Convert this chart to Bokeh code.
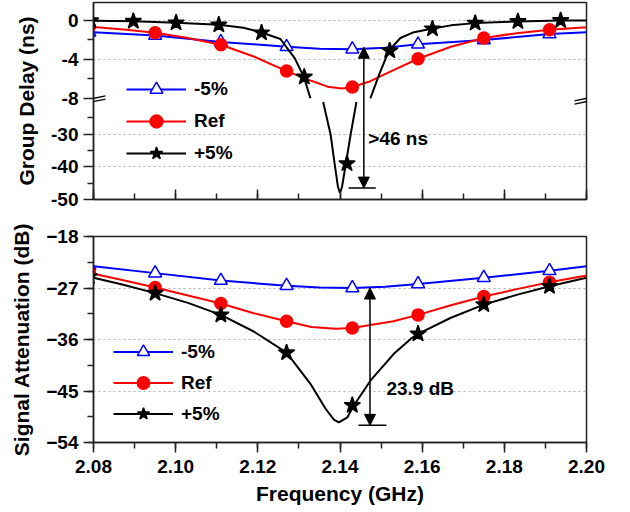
import numpy as np
from bokeh.plotting import figure
from bokeh.layouts import column
from bokeh.models import (Range1d, FixedTicker, SingleIntervalTicker, CustomJSTickFormatter,
                          NumeralTickFormatter, Legend, LegendItem, Arrow, NormalHead, Label)
from bokeh.embed import file_html
from bokeh.resources import INLINE

FONT = "Liberation Sans"
BLUE = "#0000ff"
RED = "#ff0000"
BLACK = "#000000"
FRAME = "#222222"
GRID = "#b0b0b0"

LABELS = ["-5%", "Ref", "+5%"]

# ---------------- Group delay (ns) ----------------
GD_MARK_F = [2.079, 2.095, 2.111, 2.127, 2.143, 2.159, 2.175, 2.191]
GD_M5_MARK = [-1.2, -1.55, -2.2, -2.7, -2.95, -2.45, -2.0, -1.4]
GD_REF_MARK = [-0.65, -1.27, -2.5, -5.2, -6.84, -3.93, -1.8, -0.96]
GD_P5_MARK_F = [2.0793, 2.0897, 2.1001, 2.1105, 2.1209, 2.1313, 2.1417, 2.1521,
                2.1625, 2.1729, 2.1833, 2.1937]
GD_P5_MARK = [-0.02, -0.07, -0.24, -0.44, -1.26, -5.8, -39.0, -3.1, -0.85, -0.27, -0.1, 0.0]

GD_M5_F = [2.080, 2.095, 2.111, 2.127, 2.135, 2.143, 2.151, 2.159, 2.175, 2.191, 2.200]
GD_M5 = [-1.2, -1.55, -2.2, -2.7, -2.9, -2.95, -2.8, -2.45, -2.0, -1.4, -1.2]

GD_REF_F = [2.080, 2.088, 2.095, 2.103, 2.111, 2.119, 2.127, 2.133, 2.137, 2.1405, 2.143,
            2.147, 2.152, 2.159, 2.167, 2.175, 2.183, 2.191, 2.200]
GD_REF = [-0.68, -0.95, -1.27, -1.8, -2.5, -3.7, -5.2, -6.2, -6.8, -7.0, -6.84,
          -6.3, -5.3, -3.93, -2.7, -1.8, -1.3, -0.96, -0.7]

GD_P5_F = [2.080, 2.0897, 2.1001, 2.1105, 2.1165, 2.1211, 2.1255, 2.1290, 2.1312, 2.1328,
           2.1359, 2.1377, 2.1388, 2.1395, 2.1400, 2.1405, 2.1413, 2.1426, 2.1440,
           2.1474, 2.1495, 2.1519, 2.1547, 2.1580, 2.1623, 2.1670, 2.1729, 2.1833, 2.1937, 2.200]
GD_P5 = [-0.02, -0.07, -0.24, -0.44, -0.75, -1.26, -1.9, -3.9, -5.8, -8.0,
         -20.1, -30.0, -40.0, -46.1, -48.0, -46.1, -40.0, -30.0, -20.1,
         -8.0, -5.6, -3.1, -1.8, -1.2, -0.85, -0.5, -0.27, -0.1, 0.0, 0.0]

GD_TICKS = [0, -4, -8, -30, -40, -50]
GD_MINOR = [-2, -6, -25, -35, -45]
GD_GRID = [0, -4, -30, -40]

# ---------------- Signal attenuation (dB) ----------------
SA_MARK_F = [2.079, 2.095, 2.111, 2.127, 2.143, 2.159, 2.175, 2.191]
SA_M5_MARK = [-23.1, -24.4, -25.7, -26.6, -27.0, -26.3, -25.2, -24.0]
SA_REF_MARK = [-24.3, -26.9, -29.7, -32.8, -34.0, -31.7, -28.5, -26.0]
SA_P5_MARK = [-25.0, -27.9, -31.7, -38.3, -47.5, -35.0, -29.9, -26.7]

SA_M5_F = [2.080, 2.095, 2.111, 2.127, 2.135, 2.143, 2.151, 2.159, 2.175, 2.191, 2.200]
SA_M5 = [-23.2, -24.4, -25.7, -26.6, -26.9, -27.0, -26.8, -26.3, -25.2, -24.0, -23.2]

SA_REF_F = [2.080, 2.087, 2.095, 2.103, 2.111, 2.119, 2.127, 2.133, 2.139, 2.143, 2.147,
            2.153, 2.159, 2.167, 2.175, 2.183, 2.191, 2.200]
SA_REF = [-24.5, -25.6, -26.9, -28.3, -29.7, -31.4, -32.8, -33.8, -34.1, -34.0, -33.5,
          -32.8, -31.7, -30.0, -28.5, -27.2, -26.0, -24.8]

SA_P5_F = [2.080, 2.087, 2.095, 2.103, 2.111, 2.119, 2.127, 2.1328, 2.1365, 2.1385, 2.1397,
           2.1418, 2.1434, 2.1474, 2.1531, 2.1572, 2.159, 2.167, 2.175, 2.183, 2.191, 2.200]
SA_P5 = [-25.2, -26.4, -27.9, -29.6, -31.7, -34.6, -38.3, -43.75, -48.1, -50.0, -50.5,
         -49.6, -47.5, -43.2, -38.5, -35.9, -35.0, -32.2, -29.9, -28.2, -26.7, -25.2]

# ---------------- annotations ----------------
GD_ANN_F = 2.1458
GD_ANN_TOP = -2.75
GD_ANN_BOT = -46.5
GD_ANN_TEXT = ">46 ns"
SA_ANN_F = 2.1473
SA_ANN_TOP = -27.0
SA_ANN_BOT = -51.0
SA_ANN_TEXT = "23.9 dB"

# ---------------- broken axis transform (group delay) ----------------
UPPER_MIN = -8.0
LOWER_MAX = -20.0
LOWER_SCALE = 3.27 / 9.75
GAP = 0.34
GD_TOP = 1.85


def gd_t(v):
    v = np.asarray(v, dtype=float)
    return np.where(v >= UPPER_MIN - 1e-9, v,
                    UPPER_MIN - GAP - (LOWER_MAX - v) * LOWER_SCALE)


def split_gap(f, v):
    fx, vy = [f[0]], [v[0]]
    for i in range(1, len(f)):
        if (v[i - 1] >= UPPER_MIN) != (v[i] >= UPPER_MIN):
            fx.append(np.nan)
            vy.append(np.nan)
        fx.append(f[i])
        vy.append(v[i])
    return np.array(fx, dtype=float), gd_t(vy)


X_RANGE = (2.08, 2.20)


def style_axes(p):
    for ax in p.xaxis + p.yaxis:
        ax.axis_line_color = FRAME
        ax.axis_line_width = 1.5
        ax.major_tick_line_color = FRAME
        ax.minor_tick_line_color = FRAME
        ax.major_tick_line_width = 1.5
        ax.minor_tick_line_width = 1.5
        ax.major_label_text_font = FONT
        ax.major_label_text_font_style = "bold"
        ax.major_label_text_font_size = "19px"
        ax.major_label_text_color = "black"
        ax.axis_label_text_font = FONT
        ax.axis_label_text_font_style = "bold"
        ax.axis_label_text_font_size = "21px"
        ax.axis_label_text_color = "black"
    p.outline_line_color = FRAME
    p.outline_line_width = 1.5
    p.outline_line_alpha = 1.0
    p.xgrid.visible = False
    p.ygrid.grid_line_color = GRID
    p.ygrid.grid_line_dash = "2 3"
    p.ygrid.grid_line_width = 1


def add_series(p, lf, lv, mf, mv, color, marker, size, fill):
    lr = p.line(lf, lv, line_color=color, line_width=2)
    mr = p.scatter(mf, mv, marker=marker, size=size, line_color=color,
                   fill_color=fill, line_width=1.5)
    return lr, mr


def add_legend(p, items, loc, gh):
    leg = Legend(items=[LegendItem(label=lab, renderers=list(rs)) for lab, rs in items],
                 location=loc, glyph_width=60, glyph_height=gh, label_height=gh,
                 spacing=0, padding=0, margin=0, label_standoff=8,
                 border_line_color=None, background_fill_alpha=0,
                 label_text_font=FONT, label_text_font_style="bold",
                 label_text_font_size="19px", label_text_color="black")
    p.add_layout(leg)


# ================= top panel =================
p1 = figure(width=630, height=224, x_range=Range1d(*X_RANGE),
            y_range=Range1d(float(gd_t(-50)), GD_TOP),
            output_backend="svg", toolbar_location=None, title=None,
            min_border_left=93, min_border_right=44, min_border_top=2, min_border_bottom=25)
style_axes(p1)
p1.yaxis.axis_label = "Group Delay (ns)"
p1.yaxis.axis_label_standoff = 10
p1.yaxis.major_label_standoff = 5
p1.yaxis.ticker = FixedTicker(ticks=[float(t) for t in gd_t(GD_TICKS)],
                              minor_ticks=[float(t) for t in gd_t(GD_MINOR)])
p1.yaxis.formatter = CustomJSTickFormatter(
    args=dict(um=UPPER_MIN, lm=LOWER_MAX, g=GAP, s=LOWER_SCALE),
    code="""
        let v = tick;
        if (tick < um - g / 2) { v = lm - ((um - g) - tick) / s; }
        return Math.round(v).toString();
    """)
p1.yaxis.major_tick_out = 10
p1.yaxis.major_tick_in = 0
p1.yaxis.minor_tick_out = 6
p1.yaxis.minor_tick_in = 0
p1.ygrid.ticker = FixedTicker(ticks=[float(t) for t in gd_t(GD_GRID)])
p1.xaxis.ticker = SingleIntervalTicker(interval=0.02, num_minor_ticks=2)
p1.xaxis.major_tick_in = 10
p1.xaxis.major_tick_out = 0
p1.xaxis.minor_tick_in = 6
p1.xaxis.minor_tick_out = 0
p1.xaxis.formatter = CustomJSTickFormatter(code="return '';")
p1.xaxis.major_label_standoff = 0

f, v = split_gap(GD_M5_F, GD_M5)
r1 = add_series(p1, f, v, GD_MARK_F, gd_t(GD_M5_MARK), BLUE, "triangle", 13, "white")
f, v = split_gap(GD_REF_F, GD_REF)
r2 = add_series(p1, f, v, GD_MARK_F, gd_t(GD_REF_MARK), RED, "circle", 12, RED)
f, v = split_gap(GD_P5_F, GD_P5)
r3 = add_series(p1, f, v, GD_P5_MARK_F, gd_t(GD_P5_MARK), BLACK, "star", 17, BLACK)
add_legend(p1, list(zip(LABELS, [r1, r2, r3])), (33, 30), 32)

# annotation: >46 ns
p1.add_layout(Arrow(x_start=GD_ANN_F, y_start=float(gd_t(GD_ANN_BOT)),
                    x_end=GD_ANN_F, y_end=float(gd_t(GD_ANN_TOP)),
                    start=NormalHead(size=11, fill_color=BLACK, line_color=BLACK),
                    end=NormalHead(size=11, fill_color=BLACK, line_color=BLACK),
                    line_width=1.5, line_color=BLACK))
p1.segment(x0=[GD_ANN_F - 0.0037], x1=[GD_ANN_F + 0.0029],
           y0=[float(gd_t(GD_ANN_BOT))], y1=[float(gd_t(GD_ANN_BOT))],
           line_color=BLACK, line_width=1.5)
p1.add_layout(Label(x=GD_ANN_F + 0.0011, y=float(gd_t(-31.2)), text=GD_ANN_TEXT,
                    text_font=FONT, text_font_style="bold", text_font_size="19px",
                    text_baseline="middle", text_align="left", text_color="black"))

# axis break marks
yb = UPPER_MIN - GAP / 2
dx = 12 / 4108
dy = 2.5 / 9.75
sep = 1.6 / 9.75
for xb in X_RANGE:
    for off in (-sep, sep):
        p1.add_layout(Arrow(x_start=xb - dx, y_start=yb + off - dy,
                            x_end=xb + dx, y_end=yb + off + dy,
                            start=None, end=None, line_color=BLACK, line_width=1.3))

# ================= bottom panel =================
p2 = figure(width=630, height=288, x_range=p1.x_range, y_range=Range1d(-54, -18),
            output_backend="svg", toolbar_location=None, title=None,
            min_border_left=93, min_border_right=44, min_border_top=12, min_border_bottom=70)
style_axes(p2)
p2.yaxis.axis_label = "Signal Attenuation (dB)"
p2.yaxis.axis_label_standoff = 10
p2.yaxis.major_label_standoff = 5
p2.yaxis.ticker = SingleIntervalTicker(interval=9, num_minor_ticks=2)
p2.yaxis.major_tick_out = 10
p2.yaxis.major_tick_in = 0
p2.yaxis.minor_tick_out = 6
p2.yaxis.minor_tick_in = 0
p2.xaxis.ticker = SingleIntervalTicker(interval=0.02, num_minor_ticks=2)
p2.xaxis.formatter = NumeralTickFormatter(format="0.00")
p2.xaxis.major_tick_out = 10
p2.xaxis.major_tick_in = 0
p2.xaxis.minor_tick_out = 6
p2.xaxis.minor_tick_in = 0
p2.xaxis.major_label_standoff = 7
p2.xaxis.axis_label = "Frequency (GHz)"
p2.xaxis.axis_label_standoff = 6

s1 = add_series(p2, SA_M5_F, SA_M5, SA_MARK_F, SA_M5_MARK, BLUE, "triangle", 13, "white")
s2 = add_series(p2, SA_REF_F, SA_REF, SA_MARK_F, SA_REF_MARK, RED, "circle", 12, RED)
s3 = add_series(p2, SA_P5_F, SA_P5, SA_MARK_F, SA_P5_MARK, BLACK, "star", 17, BLACK)
add_legend(p2, list(zip(LABELS, [s1, s2, s3])), (20, 13), 31)

p2.add_layout(Arrow(x_start=SA_ANN_F, y_start=SA_ANN_BOT, x_end=SA_ANN_F, y_end=SA_ANN_TOP,
                    start=NormalHead(size=11, fill_color=BLACK, line_color=BLACK),
                    end=NormalHead(size=11, fill_color=BLACK, line_color=BLACK),
                    line_width=1.5, line_color=BLACK))
p2.segment(x0=[SA_ANN_F - 0.0028], x1=[SA_ANN_F + 0.004], y0=[SA_ANN_BOT], y1=[SA_ANN_BOT],
           line_color=BLACK, line_width=1.5)
p2.add_layout(Label(x=SA_ANN_F + 0.004, y=-44.6, text=SA_ANN_TEXT,
                    text_font=FONT, text_font_style="bold", text_font_size="19px",
                    text_baseline="middle", text_align="left", text_color="black"))

layout = column(p1, p2, spacing=0)
open("out.html", "w").write(file_html(layout, INLINE))
